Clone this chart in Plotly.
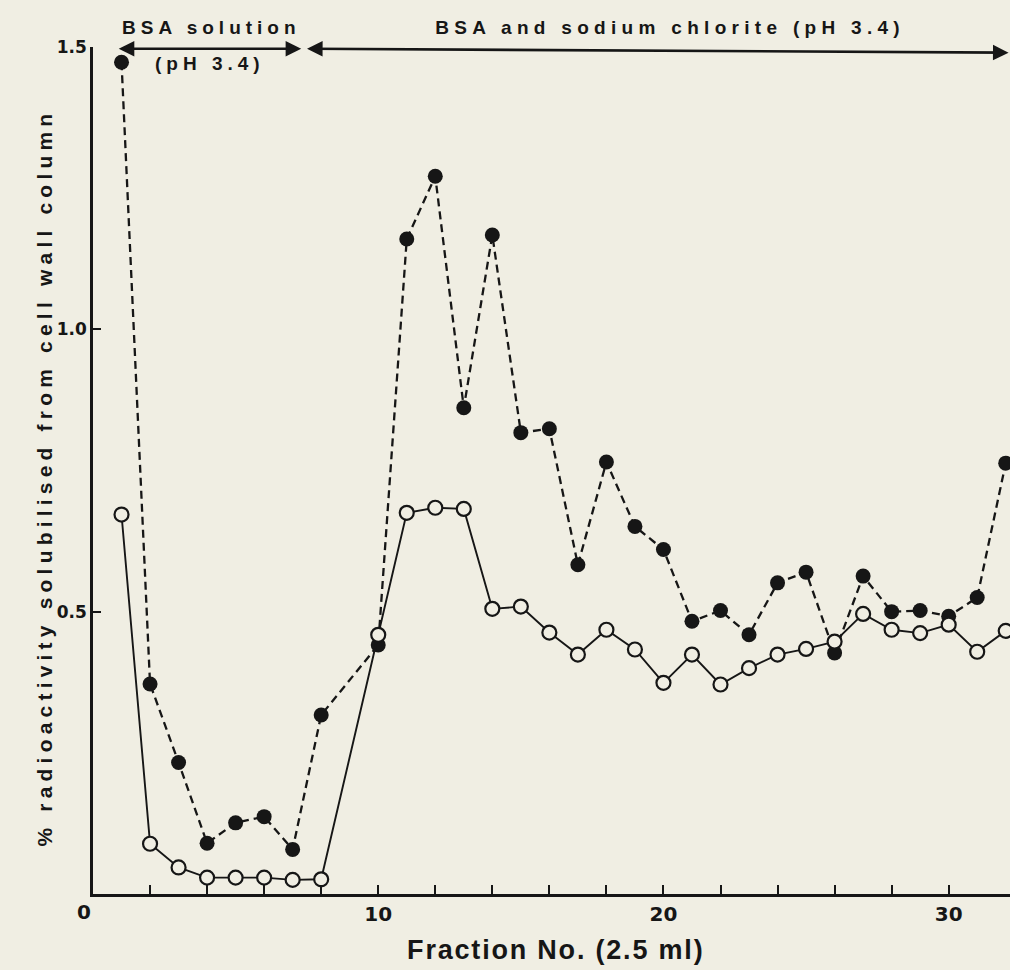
import plotly.graph_objects as go

# Fraction numbers (fraction 9 not plotted)
fractions = [1, 2, 3, 4, 5, 6, 7, 8, 10, 11, 12, 13, 14, 15, 16, 17, 18, 19, 20,
             21, 22, 23, 24, 25, 26, 27, 28, 29, 30, 31, 32]

# filled circles, dashed line
filled_vals = [1.473, 0.372, 0.233, 0.090, 0.126, 0.137, 0.079, 0.317,
               0.441, 1.160, 1.271, 0.861, 1.167, 0.817, 0.824, 0.583, 0.765,
               0.651, 0.610, 0.483, 0.502, 0.459, 0.551, 0.570, 0.427, 0.563,
               0.500, 0.502, 0.492, 0.525, 0.763]

# open circles, solid line
open_vals = [0.672, 0.089, 0.047, 0.029, 0.029, 0.029, 0.025, 0.026,
             0.459, 0.675, 0.684, 0.682, 0.505, 0.509, 0.463, 0.424, 0.468,
             0.433, 0.374, 0.424, 0.371, 0.400, 0.424, 0.434, 0.447, 0.496,
             0.468, 0.462, 0.477, 0.429, 0.466]

x_tick_vals = [2, 4, 6, 8, 10, 12, 14, 16, 18, 20, 22, 24, 26, 28, 30]
x_tick_text = ["", "", "", "", "10", "", "", "", "", "20", "", "", "", "", "30"]
y_tick_vals = [0.5, 1.0, 1.5]
y_tick_text = ["0.5", "1.0", "1.5"]

BG = "rgb(240,238,227)"
INK = "#161616"
FONT = "Liberation Sans, Arial, Helvetica, sans-serif"
WIDE = "DejaVu Sans, Verdana, sans-serif"

fig = go.Figure()
fig.add_trace(go.Scatter(
    x=fractions, y=filled_vals, mode="lines+markers",
    line=dict(color=INK, width=2.3, dash="8px,5px"),
    marker=dict(symbol="circle", size=15, color=INK),
    cliponaxis=False, showlegend=False))
fig.add_trace(go.Scatter(
    x=fractions, y=open_vals, mode="lines+markers",
    line=dict(color=INK, width=1.9),
    marker=dict(symbol="circle", size=14, color=BG, line=dict(color=INK, width=2.2)),
    cliponaxis=False, showlegend=False))

fig.update_layout(
    width=1010, height=970,
    margin=dict(l=93, r=0, t=47, b=76),
    paper_bgcolor=BG, plot_bgcolor=BG,
    font=dict(family=FONT, color=INK, size=16, weight="bold"),
    xaxis=dict(range=[0, 32.15], showgrid=False, zeroline=False,
               showline=True, linecolor=INK, linewidth=2.5,
               ticks="inside", ticklen=9, tickwidth=2, tickcolor=INK,
               tickvals=x_tick_vals, ticktext=x_tick_text,
               tickfont=dict(size=20, family=WIDE, weight="bold")),
    yaxis=dict(range=[0, 1.5], showgrid=False, zeroline=False,
               showline=True, linecolor=INK, linewidth=2.5,
               ticks="inside", ticklen=8, tickwidth=2, tickcolor=INK,
               tickvals=y_tick_vals, ticktext=y_tick_text,
               tickfont=dict(size=17, family=WIDE, weight="bold")),
)

ann_font = dict(family=FONT, size=19, color=INK, weight="bold")
fig.add_annotation(x=0.1287, y=1.0236, xref="paper", yref="paper", text="BSA solution",
                   xanchor="center", yanchor="middle", showarrow=False, font=ann_font)
fig.add_annotation(x=0.1276, y=0.981, xref="paper", yref="paper", text="(pH 3.4)",
                   xanchor="center", yanchor="middle", showarrow=False, font=ann_font)
fig.add_annotation(x=0.629, y=1.0236, xref="paper", yref="paper",
                   text="BSA and sodium chlorite (pH 3.4)",
                   xanchor="center", yanchor="middle", showarrow=False, font=ann_font)
# period arrows
fig.add_annotation(x=7.3, y=1.497, ax=0.85, ay=1.497, xref="x", yref="y",
                   axref="x", ayref="y", text="", showarrow=True,
                   arrowhead=2, startarrowhead=2, arrowside="end+start",
                   arrowsize=1.2, startarrowsize=1.2, arrowwidth=2.6, arrowcolor=INK)
fig.add_annotation(x=32.1, y=1.49, ax=7.45, ay=1.497, xref="x", yref="y",
                   axref="x", ayref="y", text="", showarrow=True,
                   arrowhead=2, startarrowhead=2, arrowside="end+start",
                   arrowsize=1.2, startarrowsize=1.2, arrowwidth=2.6, arrowcolor=INK)
# axis titles and origin label
fig.add_annotation(x=-0.0098, y=-0.0213, xref="paper", yref="paper", text="0",
                   xanchor="center", yanchor="middle",
                   showarrow=False, font=dict(family=WIDE, size=20, color=INK, weight="bold"))
fig.add_annotation(x=0.505, y=-0.0661, xref="paper", yref="paper", text="Fraction No. (2.5 ml)",
                   xanchor="center", yanchor="middle",
                   showarrow=False, font=dict(family=FONT, size=27, color=INK, weight="bold"))
fig.add_annotation(x=-0.0534, y=0.491, xref="paper", yref="paper", textangle=-90,
                   xanchor="center", yanchor="middle",
                   text="% radioactivity solubilised from cell wall column",
                   showarrow=False, font=dict(family=FONT, size=21, color=INK, weight="bold"))

post = """
document.body.style.margin = '0';
document.body.style.background = 'rgb(240,238,227)';
var gd = document.getElementById('{plot_id}');
function spaceText(){
  var anns = gd.querySelectorAll('g.annotation text');
  anns.forEach(function(t){
    var s = t.textContent;
    if (s.indexOf('BSA and') === 0) t.style.letterSpacing = '5.3px';
    else if (s.indexOf('BSA') === 0 || s.indexOf('(pH') === 0) t.style.letterSpacing = '5px';
    else if (s.indexOf('%') === 0) t.style.letterSpacing = '5.2px';
    else if (s.indexOf('Fraction') === 0) t.style.letterSpacing = '1.8px';
  });
}
spaceText();
if (gd.on) gd.on('plotly_afterplot', spaceText);
setTimeout(spaceText, 50);
"""

fig.write_html("out.html", post_script=post, config={"displayModeBar": False})
